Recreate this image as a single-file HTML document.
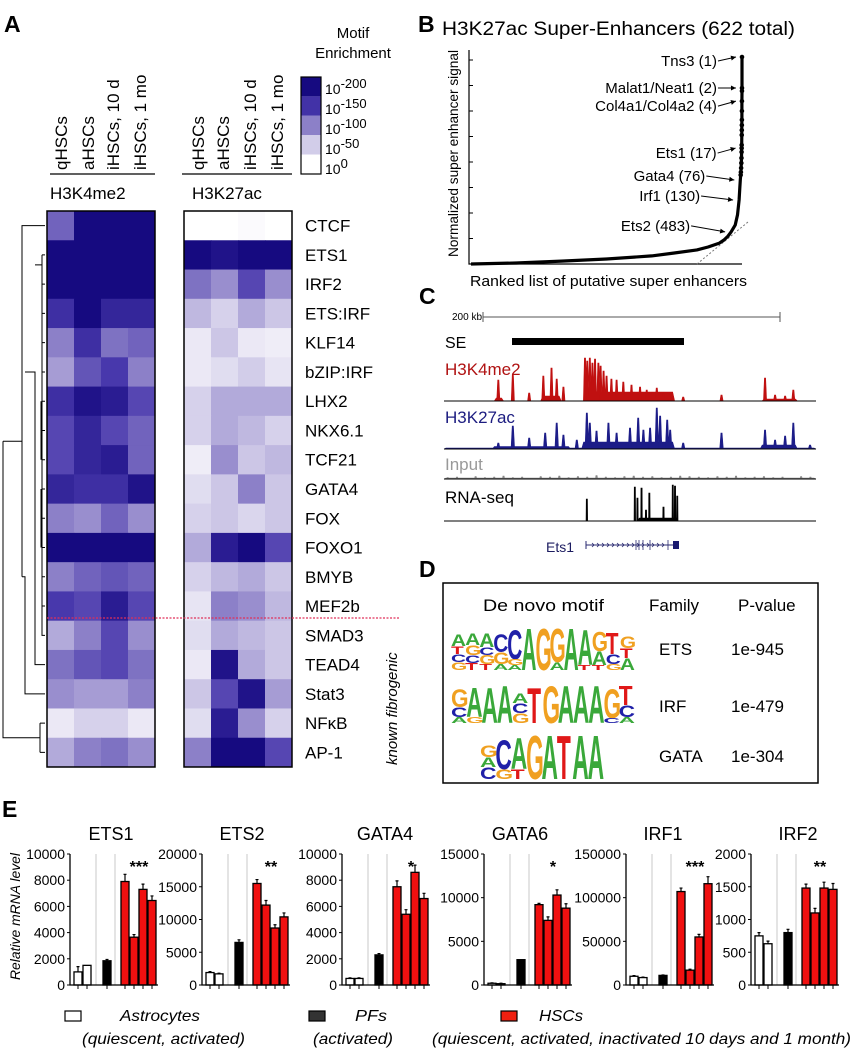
<!DOCTYPE html>
<html><head><meta charset="utf-8">
<style>
html,body{margin:0;padding:0;background:#fff;}
svg{display:block;font-family:"Liberation Sans",Arial,sans-serif;}
</style></head>
<body>
<svg id="fig" width="853" height="1050" viewBox="0 0 853 1050" xmlns="http://www.w3.org/2000/svg">
<rect x="0" y="0" width="853" height="1050" fill="#fff"/>
<!-- Panel letters -->
<text x="4" y="32" font-size="23" font-weight="bold">A</text>
<text x="418" y="32" font-size="23" font-weight="bold">B</text>
<text x="419" y="304" font-size="23" font-weight="bold">C</text>
<text x="419" y="577" font-size="23" font-weight="bold">D</text>
<text x="2" y="817" font-size="23" font-weight="bold">E</text>

<!-- Panel A headers -->
<g font-size="17">
<text transform="translate(67,170) rotate(-90)">qHSCs</text>
<text transform="translate(94,170) rotate(-90)">aHSCs</text>
<text transform="translate(119,170) rotate(-90)">iHSCs, 10 d</text>
<text transform="translate(146,170) rotate(-90)">iHSCs, 1 mo</text>
</g>
<g font-size="17">
<text transform="translate(204,170) rotate(-90)">qHSCs</text>
<text transform="translate(229,170) rotate(-90)">aHSCs</text>
<text transform="translate(256,170) rotate(-90)">iHSCs, 10 d</text>
<text transform="translate(283,170) rotate(-90)">iHSCs, 1 mo</text>
</g>
<line x1="50" y1="174" x2="155" y2="174" stroke="#000" stroke-width="1.2"/>
<line x1="182" y1="174" x2="292" y2="174" stroke="#000" stroke-width="1.2"/>
<text x="50" y="199" font-size="17">H3K4me2</text>
<text x="192" y="199" font-size="17">H3K27ac</text>

<!-- color legend -->
<text x="353" y="38" font-size="15" text-anchor="middle">Motif</text>
<text x="353" y="58" font-size="15" text-anchor="middle">Enrichment</text>
<g id="cbar"></g>

<g id="heat"></g>
<g id="dendro" stroke="#000" stroke-width="1" fill="none"></g>
<line x1="47" y1="618" x2="400" y2="618" stroke="#e0305a" stroke-width="1.2" stroke-dasharray="2,1.5"/>
<text transform="translate(397,765) rotate(-90)" font-size="15" font-style="italic">known fibrogenic</text>

<!-- Panel B -->
<text x="442" y="35" font-size="19" textLength="353" lengthAdjust="spacingAndGlyphs">H3K27ac Super-Enhancers (622 total)</text>
<g id="panelB"></g>
<text transform="translate(458,257) rotate(-90)" font-size="14" textLength="207" lengthAdjust="spacingAndGlyphs">Normalized super enhancer signal</text>
<text x="470" y="286" font-size="15" textLength="277" lengthAdjust="spacingAndGlyphs">Ranked list of putative super enhancers</text>

<!-- Panel C -->
<g id="panelC"></g>

<!-- Panel D -->
<rect x="443" y="583" width="375" height="200" fill="none" stroke="#000" stroke-width="1.5"/>
<text x="483" y="611" font-size="17" textLength="121" lengthAdjust="spacingAndGlyphs">De novo motif</text>
<text x="649" y="611" font-size="17">Family</text>
<text x="738" y="611" font-size="17">P-value</text>
<text x="659" y="655" font-size="17">ETS</text>
<text x="731" y="655" font-size="17">1e-945</text>
<text x="659" y="712" font-size="17">IRF</text>
<text x="731" y="712" font-size="17">1e-479</text>
<text x="659" y="762" font-size="17">GATA</text>
<text x="731" y="762" font-size="17">1e-304</text>
<g id="logos"></g>

<!-- Panel E -->
<text transform="translate(20,980) rotate(-90)" font-size="14" font-style="italic" textLength="127" lengthAdjust="spacingAndGlyphs">Relative mRNA level</text>
<g id="panelE"></g>

<!-- Legend E -->
<rect x="65" y="1011" width="16" height="10" fill="#fff" stroke="#000" stroke-width="1.2"/>
<text x="120" y="1021" font-size="16" font-style="italic" textLength="80" lengthAdjust="spacingAndGlyphs">Astrocytes</text>
<text x="82" y="1044" font-size="16" font-style="italic" textLength="163" lengthAdjust="spacingAndGlyphs">(quiescent, activated)</text>
<rect x="309" y="1011" width="16" height="10" fill="#333" stroke="#000" stroke-width="1.2"/>
<text x="355" y="1021" font-size="16" font-style="italic" textLength="32" lengthAdjust="spacingAndGlyphs">PFs</text>
<text x="313" y="1044" font-size="16" font-style="italic" textLength="80" lengthAdjust="spacingAndGlyphs">(activated)</text>
<rect x="501" y="1011" width="16" height="10" fill="#f02010" stroke="#000" stroke-width="1.2"/>
<text x="539" y="1021" font-size="16" font-style="italic" textLength="44" lengthAdjust="spacingAndGlyphs">HSCs</text>
<text x="432" y="1044" font-size="16" font-style="italic" textLength="419" lengthAdjust="spacingAndGlyphs">(quiescent, activated, inactivated 10 days and 1 month)</text>
</svg>

<script>
// ---------- Panel A data ----------
const motifRows = ["CTCF","ETS1","IRF2","ETS:IRF","KLF14","bZIP:IRF","LHX2","NKX6.1","TCF21","GATA4","FOX","FOXO1","BMYB","MEF2b","SMAD3","TEAD4","Stat3","NF\u03BAB","AP-1"];
const k4me2Vals = [
 [0.6,1,1,1],[1,1,1,1],[1,1,1,1],[0.8,1,0.85,0.85],[0.5,0.8,0.55,0.6],[0.4,0.65,0.75,0.5],
 [0.8,0.95,0.9,0.7],[0.7,0.85,0.7,0.6],[0.7,0.85,0.9,0.6],[0.85,0.8,0.8,0.95],[0.5,0.45,0.6,0.45],
 [1,1,1,1],[0.5,0.6,0.65,0.6],[0.75,0.7,0.9,0.7],[0.35,0.5,0.7,0.45],[0.55,0.65,0.7,0.55],
 [0.45,0.4,0.4,0.5],[0.1,0.2,0.2,0.1],[0.35,0.5,0.55,0.45]];
const k27acVals = [
 [0,0,0.02,0],[1,0.95,1,1],[0.55,0.45,0.7,0.45],[0.3,0.2,0.35,0.25],[0.1,0.25,0.1,0.08],[0.1,0.15,0.22,0.12],
 [0.2,0.35,0.35,0.35],[0.2,0.35,0.3,0.2],[0.08,0.45,0.25,0.3],[0.15,0.25,0.5,0.25],[0.2,0.25,0.18,0.25],
 [0.35,0.9,1,0.7],[0.2,0.3,0.35,0.25],[0.12,0.5,0.45,0.3],[0.15,0.35,0.3,0.25],[0.1,0.95,0.35,0.25],
 [0.25,0.7,0.95,0.4],[0.15,0.9,0.45,0.2],[0.5,1,1,0.7]];
const legendExps = ["-200","-150","-100","-50","0"];
const legendVals = [1,0.78,0.5,0.22,0];

// ---------- Panel B data ----------
const seRanks =  [1,2,3,4,5,6,8,10,12,15,17,20,25,30,40,50,60,76,100,130,200,300,483,622,800,1000,1500,2000,3000,4000,6000,8000,10000,12000];
const seSignal = [100,85,83.6,78.7,73.9,69.6,67.1,64.7,62.3,57.5,56,54.1,51.2,48.8,46.4,44.4,43,40.6,36.7,30.9,23.7,18.8,15.5,13.5,11.6,10.1,8.2,6.8,5.3,3.9,2.4,1.4,0.5,0];
const seLabels = ["Tns3 (1)","Malat1/Neat1 (2)","Col4a1/Col4a2 (4)","Ets1 (17)","Gata4 (76)","Irf1 (130)","Ets2 (483)"];
const seLabelRanks = [1,2,4,17,76,130,483];
const yTickCount = 8;

// ---------- Panel C data (position units 0-100, heights px) ----------
const k4Pos = [14.6,18.5,22.9,26.7,28.9,30.3,32.1,37.9,38.5,39.2,39.9,40.6,41.5,42.1,42.9,43.7,45.0,46.4,48.2,50.4,52.7,54.5,57.2,59.0,60.8,64.3,74.6,86.3,89.0,91.7,93.9];
const k4H =   [21,26,8,25,33,22,14,43,40,43,38,42,38,35,30,25,22,21,19,16,14,11,13,9,8,4,6,23,6,5,11];
const k4Broad = [[37.5,62,9],[13.5,16,3],[26,31.5,5],[85.5,95,2]];
const acPos = [14.6,18.5,22.9,27.2,30.3,32.1,35.7,38.4,39.2,41.0,44.2,46.4,50.0,52.2,53.6,55.4,57.2,58.1,60.0,60.8,64.3,74.6,86.3,89.0,91.7,93.9,98.4];
const acH =   [6,23,11,16,26,14,9,36,26,18,26,16,21,31,19,21,41,33,29,19,6,16,19,9,13,26,4];
const acBroad = [[37,62,7],[13,34,2.5],[85,95,4],[0,100,1]];
const inputH = [1.5,2,1,2.5,1.5,2,3,1.5,2,1,2.5,2,3,1.5,2.5,2,3.5,2,1.5,2.5,3,2,2.5,1.5,2,3,2.5,2,1.5,2.5,2,3,1.5,2,2.5,1.5,2,1,2.5,2];
const rnaPos = [38.4,51.3,52.0,53.1,54.3,55.2,59.0,61.5,62.1,62.7];
const rnaH =   [22,34,23,33,11,28,14,36,35,25];
const rnaBroad = [[52,63,3]];

// ---------- Panel D data ----------
const etsLogo = [[["A",12],["T",8],["C",8],["G",8]],[["A",12],["G",10],["C",8],["T",7]],[["A",14],["C",8],["G",9],["T",6]],
 [["C",18],["G",12],["A",6]],[["C",30],["G",6],["A",5]],[["A",43]],[["G",43]],[["G",35],["A",8]],[["A",43]],
 [["A",36],["T",5]],[["G",20],["A",14],["T",5]],[["T",22],["C",10],["G",6]],[["G",12],["T",10],["A",12]]];
const irfLogo = [[["G",18],["C",10],["A",6]],[["A",30],["G",6]],[["A",36]],[["A",38]],[["A",10],["C",10],["G",10]],
 [["T",36]],[["G",38]],[["A",38]],[["A",38]],[["A",38]],[["G",30],["C",5]],[["T",20],["C",12],["A",6]]];
const gataLogo = [[["G",12],["A",10],["C",12]],[["C",30],["G",10]],[["A",32],["T",10]],[["G",45]],[["A",45]],[["T",45]],[["A",45]],[["A",45]]];

// ---------- Panel E data ----------
const genes = ["ETS1","ETS2","GATA4","GATA6","IRF1","IRF2"];
const yMax = [10000,20000,10000,15000,150000,2000];
const yStep = [2000,5000,2000,5000,50000,500];
const astroVals = [[1000,1500],[1900,1700],[500,500],[200,150],[10000,8500],[750,630]];
const astroErr = [[400,0],[150,100],[50,50],[50,50],[800,600],[50,40]];
const pfVals = [1850,6500,2300,2900,11000,800];
const pfErr = [100,400,100,0,500,50];
const hscVals = [[7900,3650,7300,6450],[15500,12200,8700,10400],[7500,5400,8600,6600],[9200,7400,10300,8800],[107000,17000,55000,116000],[1480,1100,1480,1460]];
const hscErr = [[550,200,400,350],[600,700,500,600],[450,350,550,400],[150,400,600,500],[4000,1000,3000,8000],[60,70,90,90]];
const stars = ["***","**","*","*","***","**"];

// ---------- helpers ----------
const NS = "http://www.w3.org/2000/svg";
function mk(tag, attrs, parent){
  const e = document.createElementNS(NS, tag);
  for (const k in attrs) e.setAttribute(k, attrs[k]);
  parent.appendChild(e);
  return e;
}
function heatColor(v){
  const stops = [[0,[255,255,255]],[0.25,[204,198,230]],[0.5,[140,128,200]],[0.75,[72,56,172]],[1,[22,10,128]]];
  for (let i=1;i<stops.length;i++){
    if (v<=stops[i][0]){
      const a=stops[i-1], b=stops[i], t=(v-a[0])/(b[0]-a[0]);
      const c=a[1].map((x,j)=>Math.round(x+(b[1][j]-x)*t));
      return "rgb("+c.join(",")+")";
    }
  }
  return "rgb(22,10,128)";
}

// ---------- Panel A ----------
const heat = document.getElementById("heat");
const hTop = 211, hBot = 767, rowH = (hBot-hTop)/motifRows.length, colW = 27;
function drawHeat(vals, x0, name){
  vals.forEach((row, r) => {
    row.forEach((v, c) => {
      const cell = mk("rect", {x:x0+c*colW, y:hTop+r*rowH, width:colW+0.5, height:rowH+0.5, fill:heatColor(v)}, heat);
      
      
    });
  });
  const b = mk("rect", {x:x0, y:hTop, width:colW*4, height:hBot-hTop, fill:"none", stroke:"#000", "stroke-width":1.5}, heat);
  
  
}
drawHeat(k4me2Vals, 47, "h3k4me2-heatmap");
drawHeat(k27acVals, 184, "h3k27ac-heatmap");
motifRows.forEach((m, r) => {
  const t = mk("text", {x:305, y:hTop+(r+0.5)*rowH+6, "font-size":17}, heat);
  t.textContent = m;
  
  
});
// colorbar
const cbar = document.getElementById("cbar");
legendVals.forEach((v, i) => {
  const r = mk("rect", {x:301, y:77+i*19.4, width:20, height:19.4, fill:heatColor(v)}, cbar);
  
  
  const t = mk("text", {x:325, y:94+i*20, "font-size":14}, cbar);
  
  
  t.textContent = "10";
  const s = mk("tspan", {dy:-6, "font-size":13}, t);
  s.textContent = legendExps[i];
});
const cb = mk("rect", {x:301, y:77, width:20, height:97, fill:"none", stroke:"#000", "stroke-width":1.2}, cbar);



// dendrogram
const dendro = document.getElementById("dendro");
const rc = i => hTop+(i+0.5)*rowH;
const dpaths = [
 `M45 ${rc(0)} H22 V${rc(12)}`,
 `M3 ${(rc(0)+rc(12))/2+40} V${(rc(17)+rc(18))/2} H40`,
 `M3 ${(rc(0)+rc(12))/2+40} H22`,
 `M40 ${rc(17)} V${rc(18)} M40 ${rc(17)} H45 M40 ${rc(18)} H45`,
 `M22 ${rc(12)} H25 V${rc(16)} H45`,
 `M25 ${rc(5)} H35 V${rc(15)} H45`,
 `M35 ${rc(1)+10} H42 V${rc(14)} H45`,
 `M42 ${rc(1)} V${rc(3)} M42 ${rc(1)} H45 M42 ${rc(2)} H45 M42 ${rc(3)} H45`,
 `M42 ${rc(4)} H45 M42 ${rc(5)} H45 M42 ${rc(6)} H45 M42 ${rc(7)} H45 M42 ${rc(8)} H45 M42 ${rc(9)} H45 M42 ${rc(10)} H45 M42 ${rc(11)} H45 M42 ${rc(12)} H45 M42 ${rc(13)} H45`,
 `M41 ${rc(6)} V${rc(8)} M41 ${rc(9)} V${rc(11)}`
];
dpaths.forEach(d => {
  const p = mk("path", {d:d}, dendro);
  
  
});

// ---------- Panel B ----------
const pb = document.getElementById("panelB");
const bx0 = 469, bx1 = 742, by0 = 264, byTop = 50;
const nTotal = 12000;
const xRank = r => bx1 - (r-1)/nTotal*(bx1-bx0-2);
const ySig = s => by0 - s*2.07;
let ax = mk("path", {d:`M${bx0} ${byTop} V${by0} H${bx1}`, stroke:"#000", "stroke-width":1.2, fill:"none"}, pb);


for (let i=0;i<yTickCount;i++){
  const y = by0 - (i+1)*(by0-byTop-10)/yTickCount*1.0;
  const t = mk("line", {x1:bx0, x2:bx0+4, y1:y, y2:y, stroke:"#000", "stroke-width":1}, pb);
  
  
}
let tg = mk("line", {x1:697, y1:264, x2:748, y2:222, stroke:"#777", "stroke-width":1, "stroke-dasharray":"2,2"}, pb);


const curvePts = seRanks.map((r,i)=>xRank(r).toFixed(1)+","+ySig(seSignal[i]).toFixed(1)).join(" ");
let cv = mk("polyline", {points:curvePts, fill:"none", stroke:"#000", "stroke-width":3.2, "stroke-linejoin":"round"}, pb);


seRanks.forEach((r,i) => {
  if (r <= 60){
    const d = mk("circle", {cx:xRank(r), cy:ySig(seSignal[i]), r:2.3, fill:"#000"}, pb);
    
    
  }
});
function sigAt(rank){
  for (let i=1;i<seRanks.length;i++){
    if (rank<=seRanks[i]){
      const t=(rank-seRanks[i-1])/(seRanks[i]-seRanks[i-1]);
      return seSignal[i-1]+(seSignal[i]-seSignal[i-1])*t;
    }
  }
  return 0;
}
const labelOffsets = [[0,4],[0,0],[0,5],[0,5],[-10,-4],[-14,-4],[-16,-6]];
seLabels.forEach((lab,i) => {
  const r = seLabelRanks[i];
  const px = xRank(r), py = ySig(sigAt(r));
  const ty = py + labelOffsets[i][1];
  const tx = px - 25 + labelOffsets[i][0];
  const t = mk("text", {x:tx, y:ty+5, "font-size":15, "text-anchor":"end"}, pb);
  t.textContent = lab;
  
  
  const a = mk("line", {x1:tx+1, y1:ty, x2:px-6, y2:py, stroke:"#000", "stroke-width":1}, pb);
  
  
  const ang = Math.atan2(py-ty, px-6-tx-1);
  const hx = px-6, hy = py;
  const hp = `${hx},${hy} ${hx-5*Math.cos(ang)+2.5*Math.sin(ang)},${hy-5*Math.sin(ang)-2.5*Math.cos(ang)} ${hx-5*Math.cos(ang)-2.5*Math.sin(ang)},${hy-5*Math.sin(ang)+2.5*Math.cos(ang)}`;
  const h = mk("polygon", {points:hp, fill:"#000"}, pb);
  
  
});

// ---------- Panel C ----------
const pc = document.getElementById("panelC");
const tx0 = 444, tx1 = 816;
const tX = u => tx0 + u/100*(tx1-tx0);
function txt(x,y,s,size,fill,name){
  const t = mk("text", {x:x, y:y, "font-size":size, fill:fill}, pc);
  t.textContent = s;
  
  
  return t;
}
txt(452,320,"200 kb",10,"#000","scale-bar-label");
let sb = mk("path", {d:"M483 317 H780 M483 312 V322 M780 312 V322", stroke:"#555", "stroke-width":1, fill:"none"}, pc);


txt(445,348,"SE",16,"#000","se-track-label");
let seBar = mk("rect", {x:512, y:338, width:172, height:7, fill:"#000"}, pc);


function drawTrack(base, pos, hs, broad, color, name, hw){
  let path = "";
  broad.forEach(b => { path += `M${tX(b[0])} ${base} L${tX(b[0])+2} ${base-b[2]} L${tX(b[1])-2} ${base-b[2]} L${tX(b[1])} ${base} Z `; });
  pos.forEach((p,i) => { const x=tX(p); path += `M${x-hw} ${base} L${x-0.6} ${base-hs[i]} L${x+0.6} ${base-hs[i]} L${x+hw} ${base} Z `; });
  const g = mk("path", {d:path, fill:color, stroke:color, "stroke-width":0.6}, pc);
  
  
  const l = mk("line", {x1:tx0, x2:tx1, y1:base, y2:base, stroke:"#000", "stroke-width":1}, pc);
  
  
}
txt(445,375,"H3K4me2",17,"#b01212","h3k4me2-track-label");
drawTrack(401, k4Pos, k4H, k4Broad, "#c01010", "h3k4me2-track", 1.6);
txt(445,423,"H3K27ac",17,"#1c1c80","h3k27ac-track-label");
drawTrack(449, acPos, acH, acBroad, "#1c1c88", "h3k27ac-track", 1.8);
txt(445,470,"Input",17,"#999","input-track-label");
const inputPos = inputH.map((h,i)=>1+i*2.5);
drawTrack(479, inputPos, inputH, [[0,100,1]], "#888", "input-track", 1.2);
txt(445,503,"RNA-seq",17,"#000","rnaseq-track-label");
drawTrack(521, rnaPos, rnaH, rnaBroad, "#000", "rnaseq-track", 0.8);
txt(546,552,"Ets1",14,"#1c1c60","gene-label-ets1");
let gl = mk("path", {d:"M586 545 H676 M586 541 V549", stroke:"#2a2a70", "stroke-width":1, fill:"none"}, pc);


let chev = "";
for (let x=592;x<666;x+=5){ chev += `M${x} 543 L${x+2} 545 L${x} 547 `; }
[636,639,643,650,668].forEach(x=>{ chev += `M${x} 540 V550 `; });
let ch = mk("path", {d:chev, stroke:"#2a2a70", "stroke-width":0.8, fill:"none"}, pc);


let gb = mk("rect", {x:673, y:541, width:6, height:8, fill:"#1a1a70"}, pc);



// ---------- Panel D ----------
const logos = document.getElementById("logos");
const baseColors = {A:"#3aa83a", C:"#2020a8", G:"#f0a020", T:"#e01818"};
function drawLogo(cols, x0, width, base, name){
  const cw = width/cols.length;
  cols.forEach((col,i) => {
    let total = col.reduce((s,l)=>s+l[1],0);
    let y = base - total;
    col.forEach(l => {
      const h = l[1];
      const sy = h/14.4, sx = cw/13.5;
      const t = mk("text", {transform:`translate(${(x0+i*cw).toFixed(1)},${(y+h).toFixed(1)}) scale(${sx.toFixed(3)},${sy.toFixed(3)})`, "font-size":20, "font-weight":"bold", fill:baseColors[l[0]]}, logos);
      t.textContent = l[0];
      
      
      y += h;
    });
  });
}
drawLogo(etsLogo, 451, 183, 670, "ets-logo");
drawLogo(irfLogo, 451, 183, 723, "irf-logo");
drawLogo(gataLogo, 480, 123, 779, "gata-logo");

// ---------- Panel E ----------
const pe = document.getElementById("panelE");
const axX = [70,202,342,484,626,751];
const titleX = [111,242,385,520,663,798];
const ey0 = 985, eyTop = 854;
genes.forEach((g, gi) => {
  const x0 = axX[gi];
  const ys = v => ey0 - v/yMax[gi]*(ey0-eyTop);
  const t = mk("text", {x:titleX[gi], y:840, "font-size":18, "text-anchor":"middle"}, pe);
  t.textContent = g;
  
  
  [26,45].forEach(dx => {
    const s = mk("line", {x1:x0+dx, x2:x0+dx, y1:eyTop, y2:ey0, stroke:"#c8c8c8", "stroke-width":1}, pe);
    
    
  });
  for (let v=0; v<=yMax[gi]+1e-6; v+=yStep[gi]){
    const y = ys(v);
    const tk = mk("line", {x1:x0-3, x2:x0, y1:y, y2:y, stroke:"#000", "stroke-width":1}, pe);
    
    
    const tl = mk("text", {x:x0-5, y:y+5, "font-size":14, "text-anchor":"end"}, pe);
    tl.textContent = String(v);
    
    
  }
  const bars = [];
  astroVals[gi].forEach((v,i)=>bars.push({dx:4+i*9, v:v, e:astroErr[gi][i], fill:"#fff", n:"astrocyte-bar"}));
  bars.push({dx:33, v:pfVals[gi], e:pfErr[gi], fill:"#000", n:"pf-bar"});
  hscVals[gi].forEach((v,i)=>bars.push({dx:51+i*9, v:v, e:hscErr[gi][i], fill:"#f01010", n:"hsc-bar"}));
  bars.forEach(b => {
    const x = x0+b.dx, y = ys(b.v);
    if (b.e>0){
      const ey = ys(b.v+b.e);
      const el = mk("path", {d:`M${x+4} ${y} V${ey} M${x+2.5} ${ey} H${x+5.5}`, stroke:"#000", "stroke-width":1.2, fill:"none"}, pe);
      
      
    }
    const r = mk("rect", {x:x, y:y, width:8, height:Math.max(ey0-y,0.5), fill:b.fill, stroke:"#000", "stroke-width":1.3}, pe);
    
    
    const tk = mk("line", {x1:x+4, x2:x+4, y1:ey0, y2:ey0+4, stroke:"#000", "stroke-width":1}, pe);
    
    
  });
  const a = mk("path", {d:`M${x0} ${eyTop} V${ey0} H${x0+88}`, stroke:"#000", "stroke-width":1.3, fill:"none"}, pe);
  
  
  const st = mk("text", {x:x0+69, y:872, "font-size":16, "font-weight":"bold", "text-anchor":"middle"}, pe);
  st.textContent = stars[gi];
  
  
});
</script>
</body></html>
